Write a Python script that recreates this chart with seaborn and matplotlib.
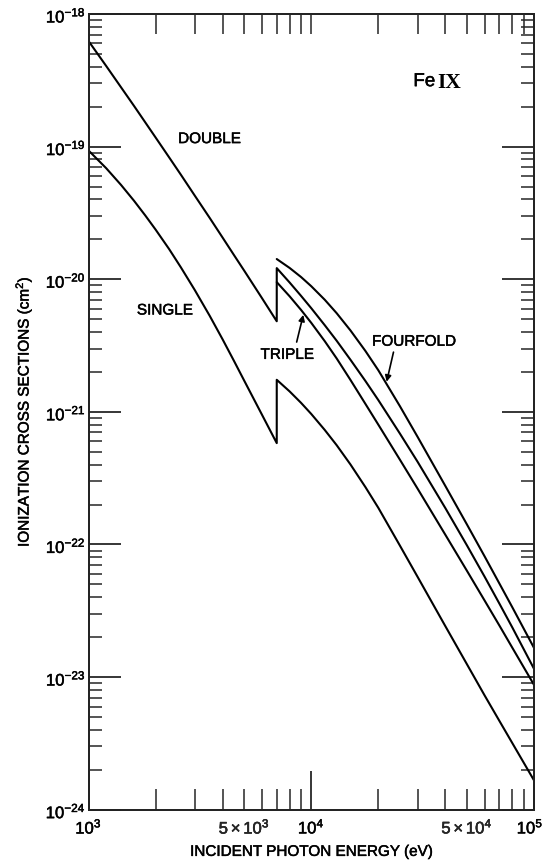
import numpy as np
import pandas as pd
import matplotlib
matplotlib.use("Agg")
import matplotlib.pyplot as plt
import matplotlib.patheffects as pe
import matplotlib.transforms as mtransforms
import seaborn as sns
from matplotlib.ticker import FixedLocator, NullFormatter

# ---------------- data ----------------
energy_pre = [1000, 1200, 1400, 1600, 1800, 2000, 2300, 2600, 3000, 3500, 4000, 4500,
              5000, 6000, 7000]
energy_post = [7000, 8000, 9000, 1.0e4, 1.15e4, 1.3e4, 1.5e4, 1.75e4, 2.0e4, 2.5e4,
               3.0e4, 4.0e4, 5.0e4, 6.0e4, 7.0e4, 8.0e4, 1.0e5]

single_pre = [9.36e-20, 6.88e-20, 5.14e-20, 3.91e-20, 3.02e-20, 2.37e-20, 1.69e-20,
              1.227e-20, 8.29e-21, 5.30e-21, 3.52e-21, 2.42e-21, 1.72e-21, 9.56e-22,
              5.81e-22]
single_post = [1.745e-21, 1.425e-21, 1.169e-21, 9.64e-22, 7.30e-22, 5.61e-22, 4.01e-22,
               2.71e-22, 1.89e-22, 9.81e-23, 5.71e-23, 2.42e-23, 1.25e-23, 7.28e-24,
               4.66e-24, 3.17e-24, 1.665e-24]
double_pre = [6.26e-19, 4.06e-19, 2.80e-19, 2.03e-19, 1.52e-19, 1.173e-19, 8.31e-20,
              6.13e-20, 4.27e-20, 2.90e-20, 2.06e-20, 1.52e-20, 1.161e-20, 7.23e-21,
              4.82e-21]
double_post = [1.213e-20, 9.44e-21, 7.49e-21, 6.05e-21, 4.50e-21, 3.44e-21, 2.47e-21,
               1.71e-21, 1.227e-21, 6.86e-22, 4.21e-22, 1.88e-22, 9.84e-23, 5.72e-23,
               3.57e-23, 2.36e-23, 1.155e-23]
triple_post = [9.51e-21, 7.43e-21, 5.87e-21, 4.69e-21, 3.41e-21, 2.53e-21, 1.74e-21,
               1.149e-21, 8.01e-22, 4.36e-22, 2.64e-22, 1.183e-22, 6.33e-23, 3.78e-23,
               2.44e-23, 1.66e-23, 8.74e-24]
fourfold_post = [1.42e-20, 1.216e-20, 1.039e-20, 8.86e-21, 7.00e-21, 5.55e-21, 4.11e-21,
                 2.88e-21, 2.06e-21, 1.104e-21, 6.49e-22, 2.76e-22, 1.415e-22, 8.14e-23,
                 5.06e-23, 3.35e-23, 1.66e-23]

y_ticks = [1e-24, 1e-23, 1e-22, 1e-21, 1e-20, 1e-19, 1e-18]
y_ticklabels = [r"$10^{-24}$", r"$10^{-23}$", r"$10^{-22}$", r"$10^{-21}$",
                r"$10^{-20}$", r"$10^{-19}$", r"$10^{-18}$"]
x_major = [1e3, 1e4, 1e5]
x_major_labels = [r"$10^3$", r"$10^4$", r"$10^5$"]
x_label_minor = {5e3: r"$5\times10^3$", 5e4: r"$5\times10^4$"}

# ---------------- frame ----------------
rows = []
for name, es, vs in [("single", energy_pre + energy_post, single_pre + single_post),
                     ("double", energy_pre + energy_post, double_pre + double_post),
                     ("triple", energy_post, triple_post),
                     ("fourfold", energy_post, fourfold_post)]:
    for i, (e, v) in enumerate(zip(es, vs)):
        rows.append({"series": name, "order": i, "energy": e, "sigma": v})
df = pd.DataFrame(rows)

sns.set_theme(style="ticks")
plt.rcParams["font.family"] = ["Liberation Sans", "DejaVu Sans"]
plt.rcParams["mathtext.fontset"] = "custom"
plt.rcParams["mathtext.rm"] = "Liberation Sans"
plt.rcParams["mathtext.it"] = "Liberation Sans:italic"
plt.rcParams["mathtext.bf"] = "Liberation Sans:bold"

thick = [pe.withStroke(linewidth=0.35, foreground="black")]

fig = plt.figure(figsize=(5.45, 8.62), dpi=100)
ax = fig.add_axes([88.5 / 545, (862 - 810.7) / 862, (534 - 88.5) / 545, (810.7 - 15) / 862])

sns.lineplot(data=df, x="energy", y="sigma", units="series", estimator=None, sort=False,
             color="black", lw=1.5, ax=ax, legend=False)

ax.set_xscale("log")
ax.set_yscale("log")
ax.set_xlim(1e3, 1e5)
ax.set_ylim(1e-24, 1e-18)

for s in ax.spines.values():
    s.set_linewidth(1.3)
    s.set_color("black")

# y ticks (left and right)
ax.yaxis.set_major_locator(FixedLocator(y_ticks))
ax.set_yticklabels(y_ticklabels)
y_minor = [m * 10.0 ** d for d in range(-24, -18) for m in range(2, 10)]
ax.yaxis.set_minor_locator(FixedLocator(y_minor))
ax.yaxis.set_minor_formatter(NullFormatter())
ax.tick_params(axis="y", which="major", direction="in", length=23, width=1.1,
               left=True, right=True, labelsize=12, pad=2, colors="black")
ax.tick_params(axis="y", which="minor", direction="in", length=9.5, width=1.1,
               left=True, right=True)

# x ticks bottom
x_minor = [m * 10.0 ** d for d in range(3, 5) for m in range(2, 10)]
ax.xaxis.set_major_locator(FixedLocator(x_major))
ax.set_xticklabels(x_major_labels)
ax.xaxis.set_minor_locator(FixedLocator(x_minor))
ax.set_xticks(x_minor, labels=[x_label_minor.get(v, "") for v in x_minor], minor=True)
ax.tick_params(axis="x", which="major", direction="in", length=28, width=1.1,
               bottom=True, top=False, labelsize=12, pad=5, colors="black")
ax.tick_params(axis="x", which="minor", direction="in", length=15, width=1.1,
               bottom=True, top=False, labelsize=12, pad=5)

for lab in ax.get_xticklabels() + ax.get_yticklabels() + ax.get_xticklabels(minor=True):
    lab.set_path_effects(thick)
# keep the last x label inside the canvas
last = ax.get_xticklabels()[-1]
last.set_transform(last.get_transform() +
                   mtransforms.ScaledTranslation(-4 / 100, 0, fig.dpi_scale_trans))

# x ticks top (shorter)
axt = ax.twiny()
axt.set_xscale("log")
axt.set_xlim(1e3, 1e5)
axt.xaxis.set_major_locator(FixedLocator(x_major))
axt.xaxis.set_minor_locator(FixedLocator(x_minor))
axt.xaxis.set_major_formatter(NullFormatter())
axt.xaxis.set_minor_formatter(NullFormatter())
axt.tick_params(axis="x", which="both", direction="in", length=14.5, width=1.1,
                top=True, bottom=False, labeltop=False)
for s in axt.spines.values():
    s.set_linewidth(1.3)

xl = ax.set_xlabel("INCIDENT PHOTON ENERGY (eV)", fontsize=11, labelpad=6, color="black")
yl = ax.set_ylabel(r"IONIZATION CROSS SECTIONS (cm$^2$)", fontsize=11, labelpad=8,
                   color="black")
xl.set_path_effects(thick)
yl.set_path_effects(thick)

# labels
txt = dict(fontsize=11, color="black", ha="center", va="center", path_effects=thick)
ax.text(3490, 1.14e-19, "DOUBLE", **txt)
ax.text(2200, 5.81e-21, "SINGLE", **txt)
ax.text(7800, 2.69e-21, "TRIPLE", **txt)
ax.text(28900, 3.38e-21, "FOURFOLD", **txt)

arrow = dict(arrowstyle="-|>", color="black", lw=1.2, shrinkA=0, shrinkB=0,
             mutation_scale=9)
ax.annotate("", xy=(9210, 5.39e-21), xytext=(8600, 3.36e-21), arrowprops=arrow)
ax.annotate("", xy=(21800, 1.686e-21), xytext=(23400, 2.82e-21), arrowprops=arrow)

ax.text(0.778, 0.915, "Fe", transform=ax.transAxes, fontsize=13.5, ha="right",
        va="center", color="black", path_effects=thick)
ax.text(0.783, 0.915, "IX", transform=ax.transAxes, fontsize=15.5, ha="left",
        va="center", color="black", family=["Liberation Serif", "DejaVu Serif"],
        fontweight="bold")

fig.savefig("out.png", dpi=100)
